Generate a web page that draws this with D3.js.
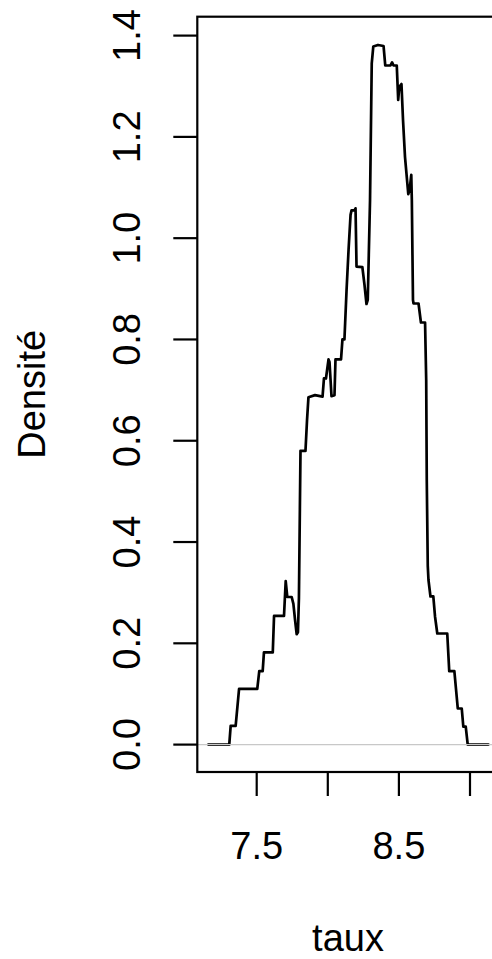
<!DOCTYPE html>
<html>
<head>
<meta charset="utf-8">
<script src="https://cdn.jsdelivr.net/npm/d3@7"></script>
<style>
  html, body { margin: 0; padding: 0; background: #ffffff; }
  svg { display: block; }
  text { font-family: "Liberation Sans", Arial, Helvetica, sans-serif; fill: #000; }
</style>
</head>
<body>
<svg id="chart" width="492" height="959"></svg>
<script>
// Density estimate of "taux": abscissae and density values of the curve
const taux = [
  7.160, 7.307, 7.317, 7.352, 7.376, 7.504, 7.518, 7.542, 7.551, 7.613,
  7.622, 7.692, 7.704, 7.715, 7.746, 7.758, 7.769, 7.781, 7.790, 7.797,
  7.808, 7.843, 7.854, 7.864, 7.910, 7.963, 7.973, 7.987, 8.005, 8.012,
  8.026, 8.047, 8.054, 8.093, 8.103, 8.117, 8.132, 8.146, 8.160, 8.167,
  8.188, 8.195, 8.202, 8.243, 8.258, 8.272, 8.281, 8.297, 8.309, 8.320,
  8.353, 8.392, 8.404, 8.441, 8.452, 8.462, 8.485, 8.495, 8.503, 8.518,
  8.529, 8.543, 8.566, 8.575, 8.587, 8.591, 8.599, 8.603, 8.638, 8.655,
  8.684, 8.692, 8.696, 8.703, 8.708, 8.722, 8.742, 8.754, 8.770, 8.840,
  8.854, 8.890, 8.914, 8.942, 8.953, 8.970, 8.984, 9.129
];
const densite = [
  0.000, 0.000, 0.037, 0.037, 0.110, 0.110, 0.145, 0.145, 0.182, 0.182,
  0.254, 0.254, 0.323, 0.2915, 0.2915, 0.278, 0.248, 0.218, 0.222, 0.290,
  0.580, 0.580, 0.641, 0.686, 0.690, 0.687, 0.723, 0.723, 0.7605, 0.7555,
  0.688, 0.690, 0.7605, 0.7605, 0.800, 0.800, 0.898, 0.977, 1.046, 1.055,
  1.055, 1.059, 0.944, 0.943, 0.908, 0.870, 0.878, 1.075, 1.345, 1.3785,
  1.3815, 1.3795, 1.341, 1.341, 1.347, 1.341, 1.341, 1.273, 1.299, 1.3045,
  1.233, 1.160, 1.087, 1.095, 1.125, 1.075, 0.878, 0.871, 0.871, 0.8335,
  0.8335, 0.720, 0.5225, 0.353, 0.325, 0.2925, 0.2925, 0.253, 0.2194, 0.2194,
  0.145, 0.145, 0.0713, 0.0713, 0.0353, 0.0353, 0.000, 0.000
];

// Axis ticks
const yTicks = [0, 0.2, 0.4, 0.6, 0.8, 1.0, 1.2, 1.4];
const xTicks = [7.5, 8.0, 8.5, 9.0];
const xTickLabels = ["7.5", "", "8.5", ""];

const xLabel = "taux";
const yLabel = "Densité";

const svg = d3.select("#chart");

// Plot region (frame) and scales
const frame = { left: 197.3, top: 16.7, bottom: 772, right: 520 };
const x = d3.scaleLinear().domain([7.5, 9.0]).range([256.7, 470.0]);
const y = d3.scaleLinear().domain([0, 1.4]).range([744.6, 35.6]);

const fontSize = 38;
const tickLen = 24;

// Density curve
const pts = taux.map((t, i) => [t, densite[i]]);
const line = d3.line().x(d => x(d[0])).y(d => y(d[1]));
svg.append("path")
  .datum(pts)
  .attr("d", line)
  .attr("fill", "none")
  .attr("stroke", "#000")
  .attr("stroke-width", 2.7)
  .attr("stroke-linejoin", "round")
  .attr("stroke-linecap", "round");

// Horizontal reference at zero
svg.append("line")
  .attr("x1", frame.left).attr("x2", 492)
  .attr("y1", y(0)).attr("y2", y(0))
  .attr("stroke", "#c8c8c8")
  .attr("stroke-width", 1.2);

// Box around plot region
svg.append("rect")
  .attr("x", frame.left).attr("y", frame.top)
  .attr("width", frame.right - frame.left)
  .attr("height", frame.bottom - frame.top)
  .attr("fill", "none")
  .attr("stroke", "#000")
  .attr("stroke-width", 2.2);

// Y axis ticks and rotated labels
const yAxis = svg.append("g");
yTicks.forEach(v => {
  yAxis.append("line")
    .attr("x1", frame.left - tickLen).attr("x2", frame.left)
    .attr("y1", y(v)).attr("y2", y(v))
    .attr("stroke", "#000").attr("stroke-width", 2.2);
  yAxis.append("text")
    .attr("transform", `translate(140,${y(v)}) rotate(-90)`)
    .attr("text-anchor", "middle")
    .attr("font-size", fontSize)
    .text(d3.format(".1f")(v));
});

// X axis ticks and labels
const xAxis = svg.append("g");
xTicks.forEach((v, i) => {
  xAxis.append("line")
    .attr("x1", x(v)).attr("x2", x(v))
    .attr("y1", frame.bottom).attr("y2", frame.bottom + tickLen)
    .attr("stroke", "#000").attr("stroke-width", 2.2);
  if (xTickLabels[i]) {
    xAxis.append("text")
      .attr("x", x(v)).attr("y", 859)
      .attr("text-anchor", "middle")
      .attr("font-size", fontSize)
      .text(xTickLabels[i]);
  }
});

// Axis titles
svg.append("text")
  .attr("x", 348).attr("y", 951)
  .attr("text-anchor", "middle")
  .attr("font-size", fontSize)
  .text(xLabel);

svg.append("text")
  .attr("transform", `translate(45,${(frame.top + frame.bottom) / 2}) rotate(-90)`)
  .attr("text-anchor", "middle")
  .attr("font-size", fontSize)
  .text(yLabel);
</script>
</body>
</html>
